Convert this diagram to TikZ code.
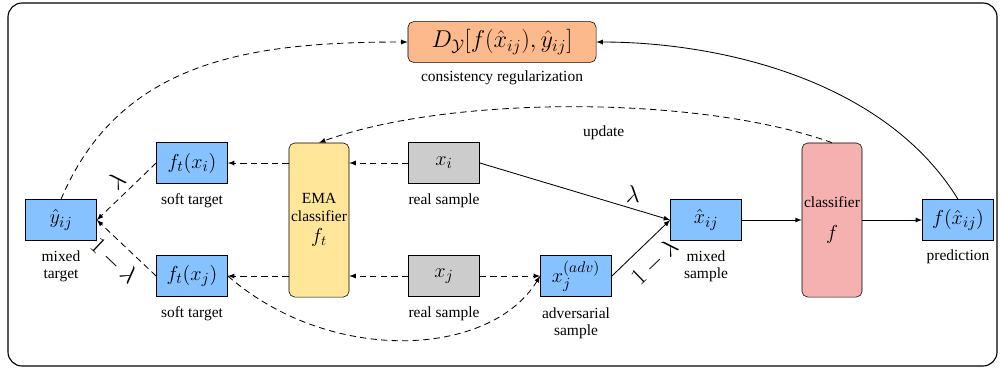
\documentclass[tikz,border=0pt]{standalone}
\usepackage{fontspec}
\setmainfont{Liberation Serif}
\definecolor{boxblue}{RGB}{133,194,255}
\definecolor{boxgray}{RGB}{204,204,204}
\definecolor{boxyellow}{RGB}{255,230,153}
\definecolor{boxred}{RGB}{245,176,176}
\definecolor{boxorange}{RGB}{252,186,140}
\begin{document}
\begin{tikzpicture}
    [   x=0.025cm,y=-0.025cm,
        vbox/.style={draw=black,fill=#1,minimum width=1.78cm,minimum height=1.02cm,
                     font=\fontsize{15.5}{18}\selectfont,inner sep=1pt},
        tallbox/.style={draw=black,fill=#1,rounded corners=4pt,minimum width=1.5cm,
                     minimum height=3.85cm,align=center,inner sep=1pt,
                     font=\fontsize{11}{13}\selectfont},
        lbl/.style={font=\fontsize{11}{13}\selectfont,align=center,inner sep=0pt},
        wgt/.style={font=\fontsize{17}{20}\selectfont,inner sep=2pt},
        flow/.style={-latex,semithick},
        dflow/.style={-latex,semithick,dash pattern=on 4.5pt off 3pt},
    ]
    \useasboundingbox (0,0) rectangle (1003,371);
    \draw[rounded corners=10pt,thick] (8,3) rectangle (997,366);

    % boxes
    \node[vbox=boxblue] (yhat) at (61,220) {$\hat{y}_{ij}$};
    \node[vbox=boxblue] (fti) at (192,163) {$f_t(x_i)$};
    \node[vbox=boxblue] (ftj) at (192,276) {$f_t(x_j)$};
    \node[tallbox=boxyellow] (ema) at (319,220) {EMA\\classifier\\[2pt]{\Large$f_t$}};
    \node[vbox=boxgray] (xi) at (444,163) {$x_i$};
    \node[vbox=boxgray] (xj) at (444,276) {$x_j$};
    \node[vbox=boxblue] (xadv) at (576,276) {$x_j^{(adv)}$};
    \node[vbox=boxblue] (xhat) at (706,220) {$\hat{x}_{ij}$};
    \node[tallbox=boxred] (clf) at (832,220) {classifier\\[10pt]{\Large$f$}};
    \node[vbox=boxblue] (fx) at (958,220) {$f(\hat{x}_{ij})$};
    \node[vbox=boxorange,rounded corners=4pt,minimum width=4.7cm,inner sep=2pt,
          font=\fontsize{17}{20}\selectfont] (dloss) at (502,42)
        {$D_{\mathcal{Y}}\Big[f(\hat{x}_{ij}),\hat{y}_{ij}\Big]$};

    % captions
    \node[lbl] (cap-d) at (502,78) {consistency regularization};
    \node[lbl] (cap-y) at (61,266) {mixed\\[-1pt]target};
    \node[lbl] (cap-i) at (192,201) {soft target};
    \node[lbl] (cap-j) at (192,314) {soft target};
    \node[lbl] (cap-xi) at (444,201) {real sample};
    \node[lbl] (cap-xj) at (444,314) {real sample};
    \node[lbl] (cap-adv) at (576,323) {adversarial\\[-1pt]sample};
    \node[lbl] (cap-xh) at (706,266) {mixed\\[-1pt]sample};
    \node[lbl] (cap-fx) at (958,257) {prediction};

    % teacher branch
    \draw[dflow] (ema.west |- fti) -- (fti);
    \draw[dflow] (ema.west |- ftj) -- (ftj);
    \draw[dflow] (xi) -- (xi -| ema.east);
    \draw[dflow] (xj) -- (xj -| ema.east);
    \draw[dflow] (xj) -- (xadv);
    \draw[dflow] (fti.west) -- node[above=2pt,sloped,wgt] {$\lambda$} (yhat.east);
    \draw[dflow] (ftj.west) -- node[below=4pt,sloped,wgt] {$1-\lambda$} (yhat.east);
    \draw[dflow] (ftj.east) .. controls (330,365) and (490,358) .. (xadv.west);

    % student branch
    \draw[flow] (xi.east) -- node[above right,wgt,pos=0.75] {$\lambda$} (xhat.west);
    \draw[flow] (xadv.east) -- node[below=5pt,sloped,wgt] {$1-\lambda$} (xhat.west);
    \draw[flow] (xhat) -- (clf);
    \draw[flow] (clf) -- (fx);

    % consistency and update
    \draw[dflow] (yhat.north) .. controls (120,60) and (250,42) .. (dloss.west);
    \draw[flow] (fx.north) .. controls (885,80) and (720,42) .. (dloss.east);
    \draw[dflow] (clf.north) .. controls (700,95) and (450,95)
        .. node[pos=0.45,below=13pt,lbl] (upd) {update} (ema.north);
\end{tikzpicture}
\end{document}
